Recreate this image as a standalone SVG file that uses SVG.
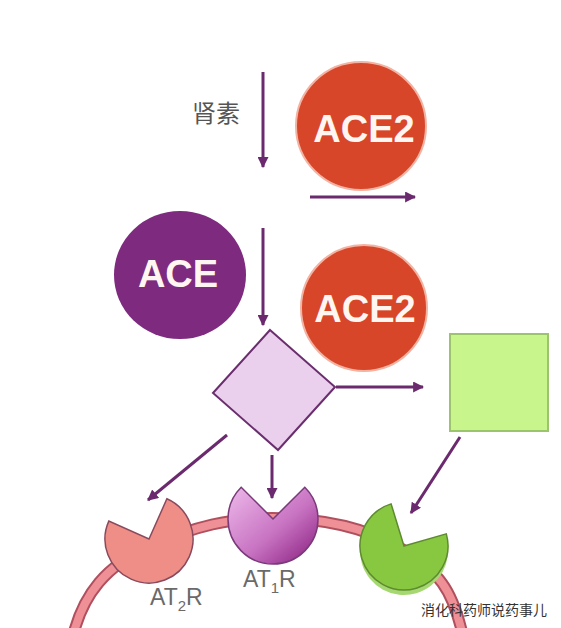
<svg xmlns="http://www.w3.org/2000/svg" width="561" height="628" viewBox="0 0 561 628">
<style>
.arrow{stroke:#6b2a6e;stroke-width:3;fill:none;marker-end:url(#ah)}
.big{font-family:"Liberation Sans",Arial,sans-serif;font-weight:bold;font-size:38px;fill:#fff6f2;text-anchor:middle}
.lbl{font-family:"Liberation Sans",Arial,sans-serif;font-size:23px;fill:#6a6a6a}
.cjk{font-family:"Liberation Sans","Noto Sans CJK SC",sans-serif}
</style>
<defs>
<marker id="ah" viewBox="0 0 10 10" refX="9" refY="5" markerWidth="11" markerHeight="11" markerUnits="userSpaceOnUse" orient="auto"><path d="M0,0 L10,5 L0,10 z" fill="#6b2a6e"/></marker>
<linearGradient id="g1" x1="0" y1="0" x2="1" y2="1"><stop offset="0" stop-color="#edbaea"/><stop offset="0.55" stop-color="#c873c2"/><stop offset="1" stop-color="#861a7c"/></linearGradient>
</defs>
<rect width="561" height="628" fill="#ffffff"/>

<g id="membrane">
<path d="M74 632 C84 595,105 566,150 546 S230 518,272 518 S360 524,400 548 S452 590,462 632" fill="none" stroke="#b0505e" stroke-width="12"/>
<path d="M74 632 C84 595,105 566,150 546 S230 518,272 518 S360 524,400 548 S452 590,462 632" fill="none" stroke="#ef8f96" stroke-width="8"/>
</g>

<g id="renin-label"><text class="cjk" x="192" y="122" font-size="24" fill="#555555">肾素</text></g>

<g id="ace2-top">
<ellipse cx="361" cy="126" rx="65" ry="64" fill="#d8462a" stroke="#f2b3a3" stroke-width="2"/>
<text class="big" x="364" y="142">ACE2</text>
</g>

<g id="ace">
<ellipse cx="180" cy="275" rx="66" ry="64" fill="#7d2a7f"/>
<text class="big" x="178" y="287">ACE</text>
</g>

<g id="ace2-mid">
<circle cx="364" cy="308" r="63" fill="#d8462a" stroke="#f2b3a3" stroke-width="2"/>
<text class="big" x="365" y="322">ACE2</text>
</g>

<g id="diamond">
<polygon points="270,330 335,387 278,450 213,393" fill="#ebd0ee" stroke="#6a2e6e" stroke-width="2"/>
</g>

<g id="square">
<rect x="450" y="334" width="98" height="97" fill="#c8f58c" stroke="#9cc46c" stroke-width="2"/>
</g>

<g id="at2r">
<path d="M149 539 L166.9 498.8 A44 44 0 1 1 108.8 521.1 Z" fill="#ef8e86" stroke="#8a4a5e" stroke-width="1.5"/>
<text class="lbl" x="150" y="605">AT<tspan font-size="15" dy="6">2</tspan><tspan dy="-6">R</tspan></text>
</g>

<g id="at1r">
<path d="M273 519 L304.8 487.2 A45 45 0 1 1 241.2 487.2 Z" fill="url(#g1)" stroke="#7a3a7a" stroke-width="1.5"/>
<text class="lbl" x="243" y="587">AT<tspan font-size="15" dy="6">1</tspan><tspan dy="-6">R</tspan></text>
</g>

<g id="green-receptor">
<path d="M404 551 L446.3 538.9 A44 44 0 1 1 391.1 508.9 Z" fill="#a6d872"/>
<path d="M404 546 L446.3 533.9 A44 44 0 1 1 391.1 503.9 Z" fill="#88c840" stroke="#5e8a30" stroke-width="1.5"/>
</g>

<g id="connectors">
<line class="arrow" x1="263" y1="72" x2="263" y2="167"/>
<line class="arrow" x1="310" y1="197" x2="415" y2="197"/>
<line class="arrow" x1="263" y1="228" x2="263" y2="325"/>
<line class="arrow" x1="336" y1="387" x2="423" y2="387"/>
<line class="arrow" x1="227" y1="435" x2="148" y2="500"/>
<line class="arrow" x1="272" y1="455" x2="272" y2="498"/>
<line class="arrow" x1="460" y1="437" x2="411" y2="513"/>
</g>

<g id="watermark"><text class="cjk" x="421" y="615" font-size="14" fill="#333333">消化科药师说药事儿</text></g>
</svg>
